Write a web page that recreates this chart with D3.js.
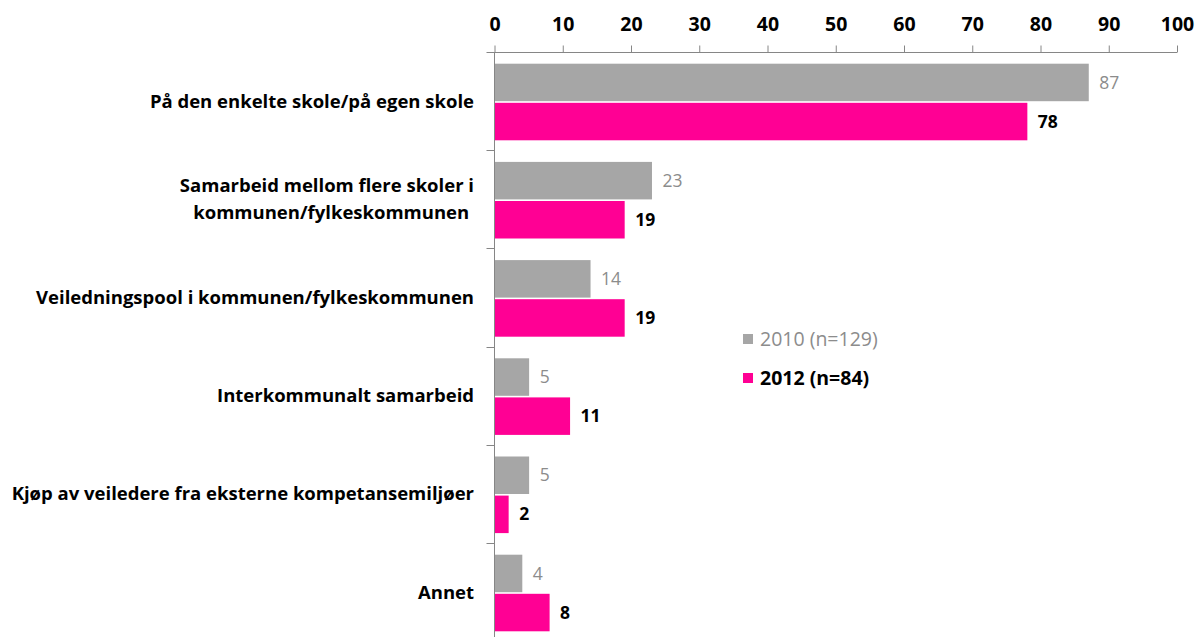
<!DOCTYPE html>
<html>
<head>
<meta charset="utf-8">
<script src="https://cdn.jsdelivr.net/npm/d3@7"></script>
<style>
  body { margin: 0; background: #fff; }
  svg text { font-family: "Open Sans", "Liberation Sans", sans-serif; }
</style>
</head>
<body>
<svg id="chart" width="1202" height="637"></svg>
<script>
// chart values
var categories = [
  "På den enkelte skole/på egen skole",
  "Samarbeid mellom flere skoler i|kommunen/fylkeskommunen ",
  "Veiledningspool i kommunen/fylkeskommunen",
  "Interkommunalt samarbeid",
  "Kjøp av veiledere fra eksterne kompetansemiljøer",
  "Annet"
];
var values2010 = [87, 23, 14, 5, 5, 4];
var values2012 = [78, 19, 19, 11, 2, 8];
var seriesNames = ["2010 (n=129)", "2012 (n=84)"];
var xTicks = [0, 10, 20, 30, 40, 50, 60, 70, 80, 90, 100];

var grey = "#a6a6a6", pink = "#ff0094", axisCol = "#868686";

var svg = d3.select("svg#chart");

var x = d3.scaleLinear().domain([0, 100]).range([494.5, 1177]);
var y = d3.scaleBand().domain(d3.range(categories.length)).range([52, 52 + 98.2 * 6]);

// top axis
var xAxis = d3.axisTop(x).tickValues(xTicks).tickSize(7).tickSizeOuter(0);
var gx = svg.append("g").attr("transform", "translate(0,52.5)").call(xAxis);
gx.select(".domain").attr("stroke", axisCol).attr("d", "M" + (x(0) - 8) + ",0H" + x(100));
gx.selectAll(".tick line").attr("stroke", axisCol);
gx.selectAll(".tick text")
  .attr("fill", "#000").attr("font-size", "19.5px").attr("font-weight", "bold")
  .attr("dy", "0").attr("y", -21.5);

// left axis line with category dividers
svg.append("line").attr("x1", x(0)).attr("x2", x(0)).attr("y1", 52).attr("y2", 637)
  .attr("stroke", axisCol);
svg.selectAll("line.div").data(d3.range(1, categories.length))
  .enter().append("line").attr("class", "div")
  .attr("x1", x(0) - 8).attr("x2", x(0))
  .attr("y1", function(i) { return Math.round(y(i)) + 0.5; })
  .attr("y2", function(i) { return Math.round(y(i)) + 0.5; })
  .attr("stroke", axisCol);

// bars
var barTop = 11.7, barH = 37.5, gap = 1.6;
var rows = svg.selectAll("g.row").data(categories).enter().append("g").attr("class", "row");

rows.append("rect")
  .attr("x", x(0) + 0.5)
  .attr("y", function(d, i) { return y(i) + barTop; })
  .attr("width", function(d, i) { return x(values2010[i]) - x(0); })
  .attr("height", barH).attr("fill", grey);

rows.append("rect")
  .attr("x", x(0) + 0.5)
  .attr("y", function(d, i) { return y(i) + barTop + barH + gap; })
  .attr("width", function(d, i) { return x(values2012[i]) - x(0); })
  .attr("height", barH).attr("fill", pink);

rows.append("text")
  .attr("x", function(d, i) { return x(values2010[i]) + 11; })
  .attr("y", function(d, i) { return y(i) + barTop + barH / 2; })
  .attr("dy", "0.35em").attr("font-size", "17.5px").attr("fill", "#8c8c8c")
  .text(function(d, i) { return values2010[i]; });

rows.append("text")
  .attr("x", function(d, i) { return x(values2012[i]) + 11; })
  .attr("y", function(d, i) { return y(i) + barTop + barH + gap + barH / 2; })
  .attr("dy", "0.35em").attr("font-size", "17.5px").attr("font-weight", "bold").attr("fill", "#000")
  .text(function(d, i) { return values2012[i]; });

// category labels
rows.each(function(d, i) {
  var lines = d.split("|");
  var cy = y(i) + y.bandwidth() / 2;
  var t = d3.select(this).append("text")
    .attr("text-anchor", "end").attr("font-size", "18.5px").attr("font-weight", "bold")
    .attr("fill", "#000").style("white-space", "pre");
  lines.forEach(function(l, k) {
    t.append("tspan").attr("x", 474)
      .attr("y", cy + (k - (lines.length - 1) / 2) * 27)
      .attr("dy", "0.35em").text(l);
  });
});

// legend
var legend = svg.selectAll("g.leg").data(seriesNames).enter().append("g").attr("class", "leg")
  .attr("transform", function(d, i) { return "translate(743," + (339 + i * 39) + ")"; });
legend.append("rect").attr("x", 0).attr("y", -5).attr("width", 10).attr("height", 10)
  .attr("fill", function(d, i) { return i ? pink : grey; });
legend.append("text").attr("x", 17).attr("dy", "0.35em").attr("font-size", "19.5px")
  .attr("font-weight", function(d, i) { return i ? "bold" : "normal"; })
  .attr("fill", function(d, i) { return i ? "#000" : "#8c8c8c"; })
  .text(function(d) { return d; });
</script>
</body>
</html>
